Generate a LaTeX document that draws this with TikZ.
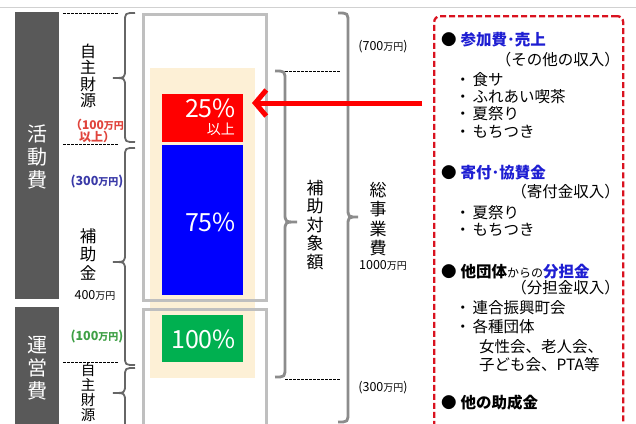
\documentclass[tikz,border=0pt]{standalone}
\usepackage{fontspec}
\setmainfont{Noto Sans CJK JP}
\usetikzlibrary{arrows.meta}
\definecolor{beige}{HTML}{FDF0D6}
\definecolor{hblue}{HTML}{1E1ED2}
\definecolor{rred}{HTML}{FF0000}
\definecolor{bblue}{HTML}{0000FF}
\definecolor{ggreen}{HTML}{00B050}
\definecolor{boxred}{HTML}{D9121F}
\definecolor{tred}{HTML}{E0443C}
\definecolor{tblue}{HTML}{3A3AA8}
\definecolor{tgreen}{HTML}{3FA046}
\newcommand\Fz[1]{\fontsize{#1}{#1}\selectfont}
\newcommand\mnY[1]{#1{\fontsize{10}{10}\selectfont 万円}}
\newcommand\braceL[4]{%
  \draw[lbr] (#1,#2) .. controls ({#1-10},#2) .. ({#1-10},{#2+9}) -- ({#1-10},{#4-9})
    .. controls ({#1-10},#4) .. ({#1-22},#4) .. controls ({#1-10},#4) .. ({#1-10},{#4+9})
    -- ({#1-10},{#3-9}) .. controls ({#1-10},#3) .. (#1,#3);}
\newcommand\braceR[5]{%
  \draw[rbr] (#1,#2) .. controls ({#1+10},#2) .. ({#1+10},{#2+10}) -- ({#1+10},{#4-9})
    .. controls ({#1+10},#4) .. ({#1+#5},#4) .. controls ({#1+10},#4) .. ({#1+10},{#4+9})
    -- ({#1+10},{#3-10}) .. controls ({#1+10},#3) .. (#1,#3);}
\tikzset{
  lbr/.style={draw=black!60, line width=1.8pt},
  rbr/.style={draw=black!45, line width=2.8pt},
  gbox/.style={draw=black!25, line width=3pt, fill=none, inner sep=0pt, anchor=north west},
  rbox/.style={draw=none, inner sep=0pt, anchor=north west},
  dl/.style={draw=black, line width=0.9pt, dash pattern=on 2.5pt off 1.5pt},
  bar/.style={fill=black!65, draw=none, inner sep=0pt, anchor=north west},
  vt/.style={align=center, inner sep=0pt},
  pct/.style={text=white, inner sep=0pt, font=\Fz{25}},
  rt/.style={inner sep=0pt, anchor=west, font=\Fz{15.5}},
  rp/.style={inner sep=0pt, anchor=east, font=\Fz{15.5}},
  sm/.style={inner sep=0pt, font=\fontsize{12.5}{12.5}\selectfont},
  srcbox/.style={draw=boxred, line width=2.3pt, dash pattern=on 6pt off 3pt, rounded corners=6pt, inner sep=0pt, anchor=north west},
}
\begin{document}
\begin{tikzpicture}[x=1pt,y=-1pt]
\useasboundingbox (0,0) rectangle (636,423);
% top rule
\draw[black!18, line width=1pt] (0,7) -- (636,7);
% dark side bars
\node[bar, minimum width=44pt, minimum height=287pt] (barA) at (15,12) {};
\node[bar, minimum width=44pt, minimum height=130pt] (barB) at (15,307) {};
\node[vt, text=white, font=\fontsize{20}{23}\selectfont] (tA) at (37,157) {活\\動\\費};
\node[vt, text=white, font=\fontsize{20}{23}\selectfont] (tB) at (37,368) {運\\営\\費};
% left dashed lines
\draw[dl] (63,13) -- (118,13);
\draw[dl] (63,144) -- (118,144);
\draw[dl] (63,362) -- (118,362);
% left labels
\node[vt, font=\fontsize{16}{16.3}\selectfont] (jA) at (88,76) {自\\主\\財\\源};
\node[vt, text=tred, font=\bfseries\fontsize{12}{11.5}\selectfont] (jAv) at (97,131) {（\mnY{100}\\以上）};
\node[sm, text=tblue, font=\bfseries\fontsize{12.5}{12.5}\selectfont] (hoV) at (97,182) {(\mnY{300})};
\node[vt, font=\fontsize{16.5}{18.5}\selectfont] (ho) at (88,254) {補\\助\\金};
\node[sm] (hoT) at (95,295) {\mnY{400}};
\node[sm, text=tgreen, font=\bfseries\fontsize{12.5}{12.5}\selectfont] (unV) at (97,337) {(\mnY{100})};
\node[vt, anchor=north, font=\fontsize{14.5}{15}\selectfont] (jB) at (88,363) {自\\主\\財\\源};
% left braces
\braceL{135}{13}{142}{78}
\braceL{135}{148}{365}{262}
\braceL{135}{368}{432}{393}
% beige background
\node[rbox, fill=beige, minimum width=105pt, minimum height=310pt] (bg) at (150,68) {};
% gray boxes
\node[gbox, minimum width=123pt, minimum height=286pt] (box1) at (142,13) {};
\node[gbox, minimum width=123pt, minimum height=140pt] (box2) at (142,308) {};
% coloured blocks
\node[rbox, fill=rred, minimum width=81pt, minimum height=48pt] (rA) at (162,94) {};
\node[rbox, fill=bblue, minimum width=81pt, minimum height=150pt] (rB) at (162,145) {};
\node[rbox, fill=ggreen, minimum width=81pt, minimum height=47pt] (rC) at (162,315) {};
\node[pct, anchor=east] (p25) at (236,108) {25\%};
\node[inner sep=0pt, text=white, anchor=east, font=\Fz{14}] (p25b) at (235,129) {以上};
\node[pct, anchor=east] (p75) at (236,222) {75\%};
\node[pct, anchor=east] (p100) at (236,339) {100\%};
% right dashed lines and braces
\draw[dl] (285,71) -- (341,71);
\draw[dl] (285,379) -- (341,379);
\braceR{275}{71}{377}{222}{22}
\braceR{338}{13}{422}{217}{20}
\node[vt, font=\fontsize{17}{18.5}\selectfont] (ht) at (315,225) {補\\助\\対\\象\\額};
\node[vt, font=\fontsize{17}{19.3}\selectfont] (so) at (378,219) {総\\事\\業\\費};
\node[sm] (v700) at (383,47) {(\mnY{700})};
\node[sm] (v1000) at (383,265) {\mnY{1000}};
\node[sm] (v300) at (383,388) {(\mnY{300})};
% source box
\node[srcbox, minimum width=189pt, minimum height=430pt] (src) at (433,15) {};
\node[rt] (h1) at (441,40) {●\hspace{4pt}\textbf{\textcolor{hblue}{参加費･売上}}};
\node[rp] (q1) at (620,60) {（その他の収入）};
\node[rt] (i1) at (455,80) {・\hspace{2pt}食サ};
\node[rt] (i2) at (455,97) {・\hspace{2pt}ふれあい喫茶};
\node[rt] (i3) at (455,114) {・\hspace{2pt}夏祭り};
\node[rt] (i4) at (455,132) {・\hspace{2pt}もちつき};
\node[rt] (h2) at (441,173) {●\hspace{4pt}\textbf{\textcolor{hblue}{寄付･協賛金}}};
\node[rp] (q2) at (620,192) {（寄付金収入）};
\node[rt] (i5) at (455,213) {・\hspace{2pt}夏祭り};
\node[rt] (i6) at (455,230) {・\hspace{2pt}もちつき};
\node[rt] (h3) at (441,272) {●\hspace{4pt}\textbf{他団体}{\Fz{12}からの}\textbf{\textcolor{hblue}{分担金}}};
\node[rp] (q3) at (620,288) {（分担金収入）};
\node[rt] (i7) at (455,308) {・\hspace{2pt}連合振興町会};
\node[rt] (i8) at (455,327) {・\hspace{2pt}各種団体};
\node[rt] (i9) at (479,347) {女性会、老人会、};
\node[rt] (i10) at (479,365) {子ども会、PTA等};
\node[rt] (h4) at (441,403) {●\hspace{4pt}\textbf{他の助成金}};
% red arrow
\coordinate (arS) at (422,103);
\coordinate (arE) at (252,103);
\draw[draw=rred, line width=5pt, -{Straight Barb[length=11pt,width=26pt]}] (arS) -- (arE);
\end{tikzpicture}
\end{document}
